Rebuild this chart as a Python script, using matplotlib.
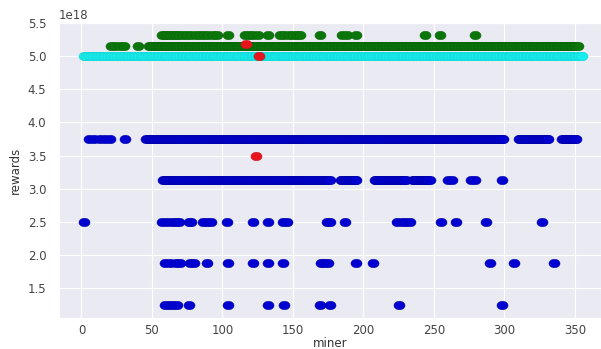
import numpy as np
import matplotlib.pyplot as plt
import seaborn as sns
from matplotlib.path import Path
from matplotlib.transforms import Affine2D

# reward levels (in wei)
level_green_hi = 5.3125e18
level_green_lo = 5.15625e18
level_cyan = 5.0e18
level_blue = [3.75e18, 3.125e18, 2.5e18, 1.875e18, 1.25e18]

# miners at each level: single miners + (first, last) runs of consecutive miners
green_hi_miners = [57, 59, 61, 63, 65, 67, 69, 72, 75, 78, 81, 84, 87, 90, 93, 96,
                   104, 116, 119, 122, 125, 132, 141, 144, 147, 150, 153, 155,
                   169, 185, 188, 195, 244, 254, 279]
green_lo_miners = [21, 24, 27, 30, 40]
green_lo_runs = [(48, 352)]
cyan_runs = [(2, 355)]

blue_375_miners = [5, 9, 13, 17, 20, 31]
blue_375_runs = [(46, 299), (310, 331), (341, 351)]
blue_3125_miners = [260, 263, 276, 279, 298]
blue_3125_runs = [(58, 176), (184, 195), (208, 230), (235, 247)]
blue_25_miners = [2, 57, 61, 64, 67, 69, 76, 78, 86, 89, 92, 103, 122, 132, 143, 146,
                  174, 176, 187, 224, 227, 230, 233, 255, 266, 287, 327]
blue_1875_miners = [59, 63, 67, 70, 77, 80, 89, 104, 122, 132, 143, 170, 172, 175,
                    195, 207, 290, 307, 335]
blue_125_miners = [59, 62, 65, 68, 76, 104, 132, 144, 169, 176, 225, 298]

red_miners = [117, 126, 124]
red_rewards = [5.175e18, 5.0e18, 3.5e18]


def expand(single, spans=()):
    pts = list(single)
    for a, b in spans:
        pts.extend(range(a, b + 1))
    return np.array(sorted(pts))


sns.set_style('darkgrid')
plt.rcParams['font.family'] = ['DejaVu Sans']

# slightly flattened dot
dot = Path.unit_circle().transformed(Affine2D().scale(1.0, 0.77))

fig = plt.figure(figsize=(6.01, 3.49), dpi=100)
ax = fig.add_axes([0.098, 0.088, 0.902, 0.847])

kw = dict(marker=dot, s=64, linewidths=0.3, zorder=3)

blue_sets = [
    expand(blue_375_miners, blue_375_runs),
    expand(blue_3125_miners, blue_3125_runs),
    expand(blue_25_miners),
    expand(blue_1875_miners),
    expand(blue_125_miners),
]
for xs, lvl in zip(blue_sets, level_blue):
    ax.scatter(xs, np.full(len(xs), lvl), color='#0000d0', edgecolors='#0000a0', **kw)

xs = expand(green_hi_miners)
ax.scatter(xs, np.full(len(xs), level_green_hi), color='#0a760a', edgecolors='#086008', **kw)
xs = expand(green_lo_miners, green_lo_runs)
ax.scatter(xs, np.full(len(xs), level_green_lo), color='#0a760a', edgecolors='#086008', **kw)
xs = expand([], cyan_runs)
ax.scatter(xs, np.full(len(xs), level_cyan), color='#18ecec', edgecolors='#14d4d4', **kw)

ax.scatter(red_miners, red_rewards, color='#e8141c', edgecolors='#c00e14', **kw)

ax.set_xlim(-16, 368.5)
ax.set_ylim(1.05e18, 5.49e18)
ax.set_xticks(np.arange(0, 351, 50))
ax.set_yticks(np.arange(1.5e18, 5.51e18, 0.5e18))

ax.tick_params(axis='both', length=0, labelsize=8.5, colors='#444444')
ax.tick_params(axis='y', pad=9)
ax.tick_params(axis='x', pad=4)
ax.yaxis.get_offset_text().set_fontsize(8.5)
ax.yaxis.get_offset_text().set_color('#444444')

ax.set_xlabel('miner', fontsize=8.5, color='#333333', labelpad=0)
ax.set_ylabel('rewards', fontsize=8.5, color='#333333', labelpad=4)

fig.savefig('out.png', dpi=100)
